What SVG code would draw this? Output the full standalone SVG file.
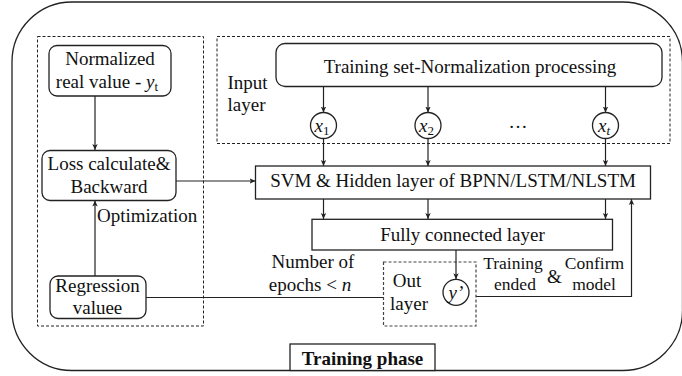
<svg xmlns="http://www.w3.org/2000/svg" width="682" height="376" viewBox="0 0 682 376">
  <style>
    text { font-family: "Times New Roman", Times, Liberation Serif, Tinos, "Noto Serif", "DejaVu Serif", serif; font-size: 19px; fill: #111; }
    .c { text-anchor: middle; }
    .it { font-style: italic; }
    .sub { font-size: 13px; }
    .sm { font-size: 17.5px; }
    .box { fill: #fff; stroke: #222; stroke-width: 1.3; }
    .dash { fill: none; stroke: #222; stroke-width: 1; stroke-dasharray: 3 2; }
    .dashg { fill: #fff; stroke: #444; stroke-width: 1.2; stroke-dasharray: 3 2; }
    .frame { fill: #fff; stroke: #222; stroke-width: 1.3; }
    .edge { fill: none; stroke: #222; stroke-width: 1.2; }
    .arrow { marker-end: url(#ah); }
    .bold { font-weight: bold; }
  </style>
  <defs>
    <marker id="ah" viewBox="0 0 10 10" refX="10" refY="5" markerWidth="6" markerHeight="7" markerUnits="userSpaceOnUse" orient="auto">
      <path d="M0,0.5 L10,5 L0,9.5 L2.5,5 z" fill="#222"/>
    </marker>
  </defs>

  <rect width="682" height="376" fill="#fff"/>

  <!-- outer frame -->
  <rect class="frame" x="12" y="2" width="670.5" height="368.5" rx="60" ry="60"/>

  <!-- dashed groupings -->
  <rect class="dash" x="37.5" y="36.5" width="166" height="289.5"/>
  <rect class="dash" x="217" y="36.5" width="453" height="107"/>

  <!-- connectors -->
  <g id="connectors">
    <line class="edge arrow" x1="95" y1="96" x2="95" y2="150"/>
    <line class="edge arrow" x1="176" y1="181" x2="255.5" y2="181"/>
    <line class="edge arrow" x1="323.5" y1="86" x2="323.5" y2="112.5"/>
    <line class="edge arrow" x1="428" y1="86" x2="428" y2="112.5"/>
    <line class="edge arrow" x1="605.5" y1="86" x2="605.5" y2="112.5"/>
    <line class="edge arrow" x1="323.5" y1="138.5" x2="323.5" y2="166"/>
    <line class="edge arrow" x1="428" y1="138.5" x2="428" y2="166"/>
    <line class="edge arrow" x1="605.5" y1="138.5" x2="605.5" y2="166"/>
    <line class="edge arrow" x1="323.5" y1="199" x2="323.5" y2="219"/>
    <line class="edge arrow" x1="428" y1="199" x2="428" y2="219"/>
    <line class="edge arrow" x1="605.5" y1="199" x2="605.5" y2="219"/>
    <line class="edge arrow" x1="95" y1="276" x2="95" y2="200.5"/>
    <line class="edge" x1="146" y1="297.5" x2="383.5" y2="297.5"/>
    <polyline class="edge arrow" points="476,296.5 631.5,296.5 631.5,199"/>
  </g>

  <!-- out layer container -->
  <g id="out-layer">
    <rect class="dashg" x="383.5" y="262" width="92.5" height="64"/>
    <text class="c" x="407" y="287">Out</text>
    <text class="c" x="409" y="310">layer</text>
  </g>
  <line class="edge arrow" x1="456" y1="250" x2="456" y2="279.3"/>

  <g id="y-prime">
    <circle class="box" cx="456" cy="292.3" r="13"/>
    <text class="c it" x="456" y="298.5">y’</text>
  </g>

  <g id="normalized-real">
    <rect class="box" x="49" y="45.5" width="122" height="50.5" rx="8"/>
    <text class="c" x="110" y="64.5">Normalized</text>
    <text class="c" x="107" y="88">real value - <tspan class="it">y</tspan><tspan class="sub" dy="3">t</tspan></text>
  </g>

  <g id="loss">
    <rect class="box" x="42" y="150.5" width="134" height="50" rx="8"/>
    <text class="c" x="109" y="170">Loss calculate&amp;</text>
    <text class="c" x="109" y="193">Backward</text>
  </g>

  <g id="regression">
    <rect class="box" x="50" y="276" width="96" height="42.5" rx="8"/>
    <text class="c" x="97.5" y="292">Regression</text>
    <text class="c" x="97.5" y="313.5">valuee</text>
  </g>

  <text x="97" y="221.5">Optimization</text>

  <g id="input-label">
    <text x="227.5" y="88.5">Input</text>
    <text x="227.5" y="110.5">layer</text>
  </g>

  <g id="training-set">
    <rect class="box" x="276" y="43.5" width="386" height="43" rx="9"/>
    <text class="c" x="470" y="72.5">Training set-Normalization processing</text>
  </g>

  <g id="x1">
    <circle class="box" cx="323.5" cy="125.5" r="13"/>
    <text class="c it" x="322" y="131.5">x<tspan class="sub" dy="3" font-style="normal">1</tspan></text>
  </g>
  <g id="x2">
    <circle class="box" cx="428" cy="125.5" r="13"/>
    <text class="c it" x="426.5" y="131.5">x<tspan class="sub" dy="3" font-style="normal">2</tspan></text>
  </g>
  <text class="c" x="518" y="128">…</text>
  <g id="xt">
    <circle class="box" cx="605.5" cy="125.5" r="13"/>
    <text class="c it" x="604" y="131.5">x<tspan class="sub" dy="3">t</tspan></text>
  </g>

  <g id="hidden-layer">
    <rect class="box" x="255.5" y="166" width="395" height="33"/>
    <text class="c" x="453" y="186.5">SVM &amp; Hidden layer of BPNN/LSTM/NLSTM</text>
  </g>

  <g id="fully-connected">
    <rect class="box" x="312" y="219.3" width="300.5" height="30.7"/>
    <text class="c" x="462.5" y="240.5">Fully connected layer</text>
  </g>

  <g id="epoch-label">
    <text class="c" x="313" y="267.5">Number of</text>
    <text class="c" x="310" y="290.5">epochs &lt; <tspan class="it">n</tspan></text>
  </g>

  <g id="end-label">
    <text class="c sm" x="513" y="269">Training</text>
    <text class="c sm" x="515" y="290">ended</text>
    <text class="c" x="554.5" y="283">&amp;</text>
    <text class="c sm" x="594.5" y="269">Confirm</text>
    <text class="c sm" x="594" y="290">model</text>
  </g>

  <g id="phase-label">
    <rect class="box" x="290" y="344" width="145" height="26.5" stroke="#555"/>
    <text class="c bold" x="362.5" y="364.5">Training phase</text>
  </g>
</svg>
